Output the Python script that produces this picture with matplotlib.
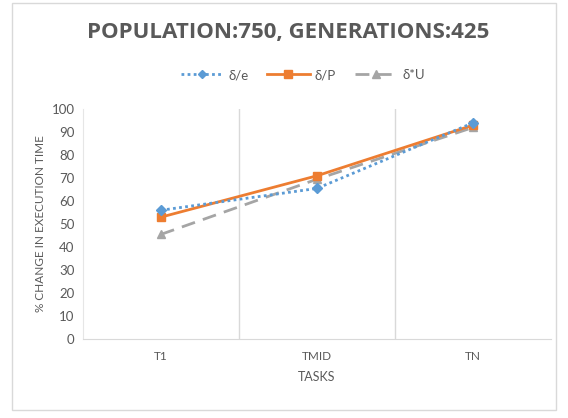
import matplotlib.pyplot as plt
from matplotlib.patches import Rectangle

# task categories and % change in execution time per strategy
tasks = ['T1', 'TMID', 'TN']
delta_e = [56, 65.5, 94]
delta_p = [53, 71, 93]
delta_u = [45.5, 69.5, 92]
yticks = list(range(0, 101, 10))

plt.rcParams['font.family'] = ['Lato', 'DejaVu Sans']

fig = plt.figure(figsize=(5.68, 4.18), dpi=100)
fig.patches.append(Rectangle((0.021, 0.018), 0.958, 0.975, transform=fig.transFigure,
                             fill=False, edgecolor='#d9d9d9', lw=1))
ax = fig.add_axes([0.146, 0.189, 0.824, 0.55])

x = range(len(tasks))
ax.plot(x, delta_e, color='#5b9bd5', ls=(0, (1, 1.2)), lw=2, marker='D', ms=5, label='δ/e', zorder=4)
ax.plot(x, delta_p, color='#ed7d31', ls='-', lw=2, marker='s', ms=6, label='δ/P', zorder=3)
ax.plot(x, delta_u, color='#a5a5a5', ls=(0, (5, 3)), lw=2, marker='^', ms=6, label='δ*U', zorder=2)

ax.set_xlim(-0.5, 2.5)
ax.set_ylim(0, 100)
ax.set_yticks(yticks)
ax.set_xticks(list(x))
ax.set_xticklabels(tasks, fontsize=8.5, color='#595959')
ax.tick_params(axis='y', labelsize=9.5, colors='#595959', length=0, pad=6)
ax.tick_params(axis='x', length=0, pad=9)
for xv in [0.5, 1.5]:
    ax.axvline(xv, color='#d9d9d9', lw=1, zorder=0)
for side in ['top', 'right']:
    ax.spines[side].set_visible(False)
ax.spines['left'].set_color('#e6e6e6')
ax.spines['bottom'].set_color('#d9d9d9')

ax.set_xlabel('TASKS', fontsize=9, color='#595959', labelpad=6)
ax.set_ylabel('% CHANGE IN EXECUTION TIME', fontsize=8.5, color='#595959', labelpad=4)

fig.text(0.508, 0.922, 'POPULATION:750, GENERATIONS:425', ha='center', va='center',
         fontsize=16, fontweight='bold', color='#595959', family='Open Sans')
leg = ax.legend(loc='center', bbox_to_anchor=(0.47, 1.148), ncol=3, frameon=False,
                fontsize=9.5, labelcolor='#595959', handlelength=3.2, columnspacing=1.4,
                handletextpad=0.4, markerscale=0.85)

fig.savefig('out.png', dpi=100)
